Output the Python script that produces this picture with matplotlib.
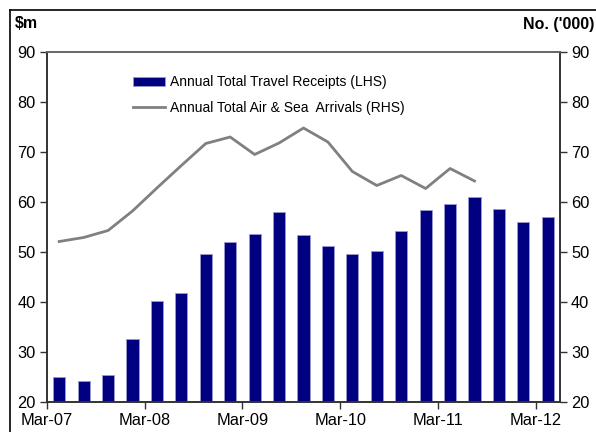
import numpy as np
import matplotlib.pyplot as plt
from matplotlib.lines import Line2D

plt.rcParams['font.family'] = ['Liberation Sans', 'DejaVu Sans']

# quarterly data, Mar-07 .. Mar-12
quarters = ['Mar-07', 'Jun-07', 'Sep-07', 'Dec-07', 'Mar-08', 'Jun-08', 'Sep-08',
            'Dec-08', 'Mar-09', 'Jun-09', 'Sep-09', 'Dec-09', 'Mar-10', 'Jun-10',
            'Sep-10', 'Dec-10', 'Mar-11', 'Jun-11', 'Sep-11', 'Dec-11', 'Mar-12']
receipts = [25.1, 24.3, 25.5, 32.7, 40.3, 41.8, 49.6, 52.0, 53.7, 58.0, 53.4,
            51.3, 49.6, 50.3, 54.3, 58.5, 59.7, 61.0, 58.7, 56.1, 57.1]
arrivals = [52.1, 52.9, 54.3, 58.2, 62.8, 67.3, 71.7, 73.0, 69.5, 71.8, 74.8,
            72.0, 66.1, 63.3, 65.3, 62.7, 66.7, 64.2]
tick_labels = ['Mar-07', 'Mar-08', 'Mar-09', 'Mar-10', 'Mar-11', 'Mar-12']

fig = plt.figure(figsize=(5.96, 4.32), dpi=100)
ax = fig.add_axes([47/596, 30/432, 513/596, 350/432])
ax2 = ax.twinx()

x = np.arange(len(quarters))
bars = ax.bar(x, receipts, width=0.5, color='#000080', edgecolor='#9a9ad0',
              linewidth=0.6, label='Annual Total Travel Receipts (LHS)', zorder=2)
line, = ax2.plot(x[:len(arrivals)], arrivals, color='#808080', lw=2,
                 label='Annual Total Air & Sea  Arrivals (RHS)')

ax.set_xlim(-0.5, len(quarters) - 0.5)
ax.set_ylim(20, 90)
ax2.set_ylim(20, 90)
ax.set_yticks(range(20, 91, 10))
ax2.set_yticks(range(20, 91, 10))

tick_pos = [i - 0.5 for i in range(0, len(quarters), 4)]
ax.set_xticks(tick_pos)
ax.set_xticklabels(tick_labels)

for a in (ax, ax2):
    a.tick_params(labelsize=11.8, length=5, width=1, color='#333333', pad=3)
    for s in a.spines.values():
        s.set_color('#333333')
        s.set_linewidth(1.2)
ax.spines['top'].set_color('#666666')
ax2.spines['top'].set_color('#666666')

ax.legend(handles=[bars, line], loc='upper left', bbox_to_anchor=(0.157, 0.95),
          frameon=False, fontsize=10, handlelength=2.3, handleheight=0.65,
          handletextpad=0.35, labelspacing=0.85, borderaxespad=0)

fig.text(15/596, 1 - 24/432, '$m', fontsize=11.5, fontweight='bold',
         ha='left', va='center')
fig.text(594/596, 1 - 24/432, "No. ('000)", fontsize=11.5, fontweight='bold',
         ha='right', va='center')

# outer frame (left and top edges visible)
fig.add_artist(Line2D([10/596, 10/596], [0, 1 - 10/432], color='black', lw=1.2))
fig.add_artist(Line2D([10/596, 1], [1 - 10/432, 1 - 10/432], color='black', lw=1.2))

fig.savefig('out.png', dpi=100)
